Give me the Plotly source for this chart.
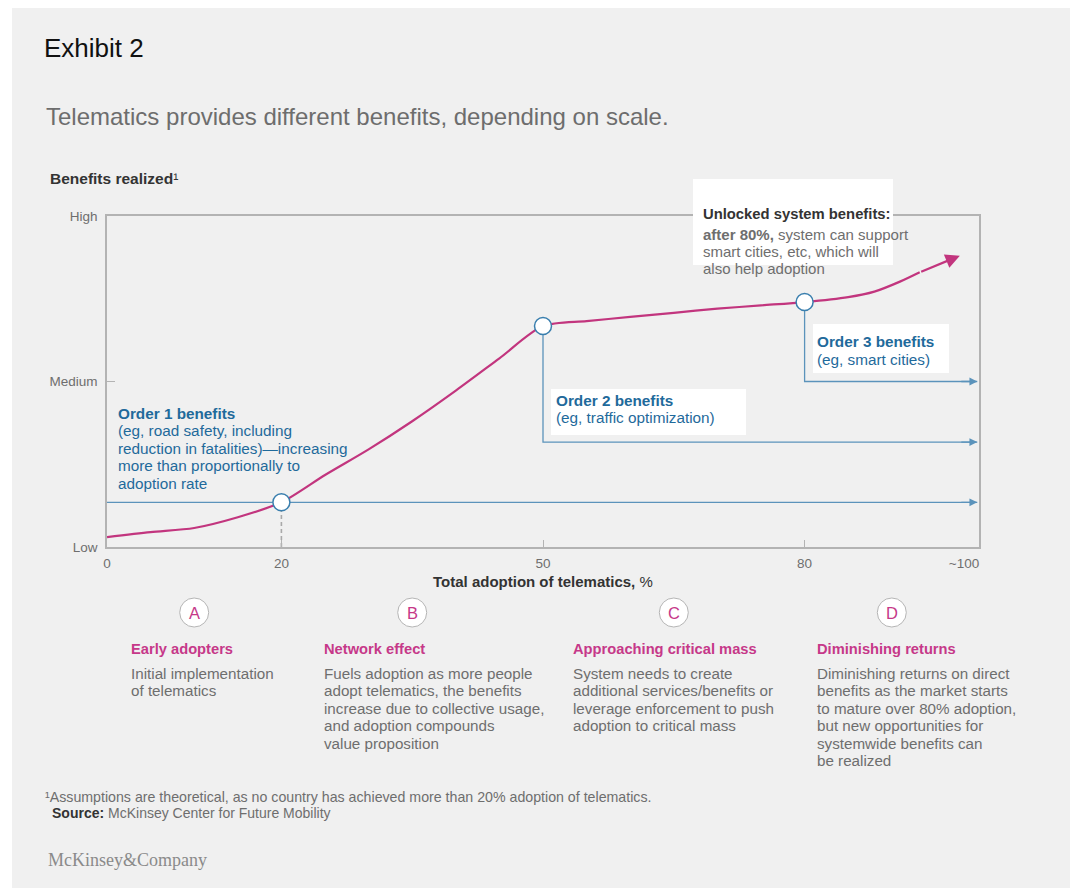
import plotly.graph_objects as go

# ---------------- data ----------------
adoption = [0, 5, 10, 15, 20, 25, 30, 35, 40, 45, 50, 55, 60, 65, 70, 75, 80, 85, 88, 91, 93.2, 97.8]
benefit = [0.06, 0.09, 0.115, 0.18, 0.27, 0.435, 0.59, 0.76, 0.945, 1.14, 1.335, 1.365, 1.39, 1.415,
           1.44, 1.46, 1.48, 1.51, 1.543, 1.605, 1.66, 1.76]

milestone_x = [20, 50, 80]
milestone_y = [0.27, 1.335, 1.48]
order2_level = 0.634
order3_level = 1.0
order_arrow_end = 99.8

y_tick_vals = [0, 1, 2]
y_tick_text = ["Low", "Medium", "High"]
x_tick_vals = [0, 20, 50, 80, 100]
x_tick_text = ["0", "20", "50", "80", "~100&nbsp;&nbsp;&nbsp;&nbsp;&nbsp;&nbsp;&nbsp;&nbsp;"]

phase_x = [10, 35, 65, 90]
phase_letters = ["A", "B", "C", "D"]
phase_titles = ["Early adopters", "Network effect", "Approaching critical mass", "Diminishing returns"]
phase_bodies = [
    ["Initial implementation", "of telematics"],
    ["Fuels adoption as more people", "adopt telematics, the benefits",
     "increase due to collective usage,", "and adoption compounds", "value proposition"],
    ["System needs to create", "additional services/benefits or",
     "leverage enforcement to push", "adoption to critical mass"],
    ["Diminishing returns on direct", "benefits as the market starts",
     "to mature over 80% adoption,", "but new opportunities for",
     "systemwide benefits can", "be realized"],
]

order1_lines = ["<b>Order 1 benefits</b>", "(eg, road safety, including",
                "reduction in fatalities)—increasing", "more than proportionally to", "adoption rate"]
order2_lines = ["<b>Order 2 benefits</b>", "(eg, traffic optimization)"]
order3_lines = ["<b>Order 3 benefits</b>", "(eg, smart cities)"]
unlock_lines = ["<b>Unlocked system benefits:</b>",
                "<b>after 80%,</b> system can support",
                "smart cities, etc, which will",
                "also help adoption"]

# ---------------- style ----------------
W, H = 1074, 888
L, R, T, B = 107, 979, 216, 547
FONT = "Liberation Sans, Arial, sans-serif"
MAGENTA = "#c2357e"
MAGENTA_TXT = "#c63889"
BLUE_TXT = "#1f6a9b"
BLUE_LINE = "#5b93bb"
CIRCLE_BLUE = "#3a7fae"
GRAY_TXT = "#6e6e6e"
DARK = "#333333"
AXIS_GRAY = "#b3b3b3"
PANEL = "#f0f0f0"


def px(xp):
    return (xp - L) / (R - L)


def py(yp):
    return (B - yp) / (B - T)


fig = go.Figure()

# blue order lines
fig.add_trace(go.Scatter(x=[0, order_arrow_end], y=[milestone_y[0], milestone_y[0]], mode="lines",
                         line=dict(color=BLUE_LINE, width=1.3), hoverinfo="skip"))
fig.add_trace(go.Scatter(x=[milestone_x[1], milestone_x[1], order_arrow_end],
                         y=[milestone_y[1], order2_level, order2_level], mode="lines",
                         line=dict(color=BLUE_LINE, width=1.3), hoverinfo="skip"))
fig.add_trace(go.Scatter(x=[milestone_x[2], milestone_x[2], order_arrow_end],
                         y=[milestone_y[2], order3_level, order3_level], mode="lines",
                         line=dict(color=BLUE_LINE, width=1.3), hoverinfo="skip"))
# dashed drop line
fig.add_trace(go.Scatter(x=[milestone_x[0], milestone_x[0]], y=[0, milestone_y[0]], mode="lines",
                         line=dict(color="#a9a9a9", width=1.6, dash="4px,3px"), hoverinfo="skip"))
# benefit curve
fig.add_trace(go.Scatter(x=adoption[:-1], y=benefit[:-1], mode="lines",
                         line=dict(color=MAGENTA, width=2.2, shape="spline", smoothing=0.8),
                         hoverinfo="skip"))
# milestone circles
fig.add_trace(go.Scatter(x=milestone_x, y=milestone_y, mode="markers",
                         marker=dict(size=17, color="white", line=dict(color=CIRCLE_BLUE, width=1.5)),
                         hoverinfo="skip"))

# arrowheads
for yl in [milestone_y[0], order2_level, order3_level]:
    fig.add_annotation(x=order_arrow_end, y=yl, ax=order_arrow_end - 2, ay=yl, xref="x", yref="y",
                       axref="x", ayref="y", text="", showarrow=True, arrowhead=2, arrowsize=1.2,
                       arrowwidth=1.3, arrowcolor=BLUE_LINE, standoff=0)
fig.add_annotation(x=adoption[-1], y=benefit[-1], ax=adoption[-2], ay=benefit[-2], xref="x", yref="y",
                   axref="x", ayref="y", text="", showarrow=True, arrowhead=2, arrowsize=1.3,
                   arrowwidth=2.2, arrowcolor=MAGENTA, standoff=0)

shapes = [
    dict(type="rect", xref="paper", yref="paper", x0=px(12), x1=px(1070), y0=py(8), y1=py(888),
         fillcolor=PANEL, line=dict(width=0), layer="below"),
    dict(type="rect", xref="paper", yref="paper", x0=px(551), x1=px(746), y0=py(389), y1=py(435),
         fillcolor="white", line=dict(width=0), layer="above"),
    dict(type="rect", xref="paper", yref="paper", x0=px(813), x1=px(949), y0=py(324), y1=py(373),
         fillcolor="white", line=dict(width=0), layer="above"),
    dict(type="rect", xref="paper", yref="paper", x0=px(693), x1=px(893), y0=py(179), y1=py(265),
         fillcolor="white", line=dict(width=0), layer="above"),
]

# phase letter circles (positioned under the x axis at the phase midpoints)
PHASE_ROW = 612.5
for xv, letter in zip(phase_x, phase_letters):
    shapes.append(dict(type="circle", xref="x", yref="paper", xsizemode="pixel", ysizemode="pixel",
                       xanchor=xv, yanchor=py(PHASE_ROW), x0=-14.5, x1=14.5, y0=-14.5, y1=14.5,
                       fillcolor="white", line=dict(color="#b5b5b5", width=1), layer="above"))
    fig.add_annotation(x=xv, y=py(PHASE_ROW), xref="x", yref="paper", text=letter, showarrow=False,
                       xanchor="center", yanchor="middle",
                       font=dict(size=16.5, color=MAGENTA_TXT, family=FONT))


def text(xp, yp, s, size, color, anchor="left", family=FONT):
    if anchor == "left":
        xp = xp - 2
    fig.add_annotation(x=px(xp), y=py(yp), xref="paper", yref="paper", text=s, showarrow=False,
                       xanchor=anchor, yanchor="middle", font=dict(size=size, color=color, family=family))


def block(xp, y0, lines, size, color, spacing=17.5):
    for i, s in enumerate(lines):
        text(xp, y0 + i * spacing, s, size, color)


# titles
text(44, 48, "Exhibit 2", 26, "#111111")
text(46, 116, "Telematics provides different benefits, depending on scale.", 24, "#6d6d6d")
text(50, 178, "<b>Benefits realized</b>¹", 15.5, DARK)
text(543, 581, "<b>Total adoption of telematics,</b> %", 15, DARK, anchor="center")

# order annotations
block(118, 413, order1_lines, 15.3, BLUE_TXT)
block(556, 400, order2_lines, 15.3, BLUE_TXT)
block(817, 341.5, order3_lines, 15.3, BLUE_TXT)
text(703, 214, unlock_lines[0], 14.8, DARK)
block(703, 234, unlock_lines[1:], 15, GRAY_TXT, spacing=17.3)

# phases
phase_left = [131, 324, 573, 817]
for xl, title, body in zip(phase_left, phase_titles, phase_bodies):
    text(xl, 649, "<b>" + title + "</b>", 14.7, MAGENTA_TXT)
    block(xl, 673, body, 15.2, GRAY_TXT)

# footnotes
text(45, 797, "¹Assumptions are theoretical, as no country has achieved more than 20% adoption of telematics.",
     14.2, "#6e6e6e")
text(52, 813, "<b style='color:#333'>Source:</b> McKinsey Center for Future Mobility", 14, "#6e6e6e")
text(48, 860, "McKinsey&amp;Company", 18, "#8a8a8a", family="Liberation Serif, Times New Roman, serif")

axis_common = dict(showgrid=False, zeroline=False, showline=True, mirror=True, linecolor=AXIS_GRAY,
                   linewidth=1.5, ticks="inside", tickcolor=AXIS_GRAY, tickwidth=1,
                   tickfont=dict(size=13.5, color=GRAY_TXT, family=FONT), fixedrange=True)

fig.update_layout(
    width=W, height=H, autosize=False,
    margin=dict(l=L, r=W - R, t=T, b=H - B, autoexpand=False),
    paper_bgcolor="white", plot_bgcolor=PANEL,
    showlegend=False, shapes=shapes,
    font=dict(family=FONT),
    xaxis=dict(range=[0, 100], tickmode="array", tickvals=x_tick_vals, ticktext=x_tick_text, ticklen=7,
               ticklabelstandoff=3, **axis_common),
    yaxis=dict(range=[0, 2], tickmode="array", tickvals=y_tick_vals, ticktext=y_tick_text, ticklen=8,
               ticklabelstandoff=5, **axis_common),
)

fig.write_html("out.html")
